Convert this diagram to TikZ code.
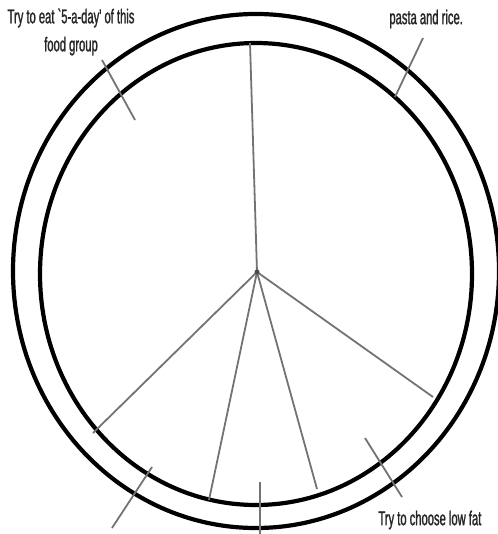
\documentclass[tikz,border=0pt]{standalone}
\usepackage{fontspec}
\usepackage{tikz}
\usepackage{xcolor}
\newfontfamily\handfont[FakeStretch=0.56,FakeBold=1.2]{Liberation Sans}

\begin{document}
\begin{tikzpicture}[x=0.5pt,y=-0.5pt,
      rim/.style={draw=black,line width=2.1pt},
      spoke/.style={draw=black!55,line width=0.9pt},
      pointer/.style={draw=black!55,line width=0.9pt},
      note/.style={font=\handfont\fontsize{10}{14}\selectfont,align=center,inner sep=0pt,text=black!85}]
    \useasboundingbox (0,0) rectangle (497,534);
    \draw[rim] (256,271) ellipse [x radius=243,y radius=257];
    \draw[rim] (256,274) ellipse [x radius=216,y radius=231];
    \coordinate (hub) at (257,272);
    \coordinate (top) at (250,43);
    \coordinate (left) at (93,433);
    \coordinate (midl) at (209,500);
    \coordinate (midr) at (317,489);
    \coordinate (right) at (433,397);
    \foreach \p in {top,left,midl,midr,right}
      \draw[spoke] (hub)--(\p);
    \node[note] (fruit) at (71,32) {Try to eat `5-a-day' of this\\food group};
    \node[note,anchor=west] (starch) at (389,19) {pasta and rice.};
    \node[note,anchor=west] (dairy) at (378,520) {Try to choose low fat};
    \coordinate (fa) at (102,60); \coordinate (fb) at (135,120);
    \coordinate (sa) at (423,38); \coordinate (sb) at (395,97);
    \coordinate (la) at (152,467); \coordinate (lb) at (112,528);
    \coordinate (ma) at (260,482); \coordinate (mb) at (260,534);
    \coordinate (ra) at (365,438); \coordinate (rb) at (402,497);
    \draw[pointer] (fa)--(fb);
    \draw[pointer] (sa)--(sb);
    \draw[pointer] (la)--(lb);
    \draw[pointer] (ma)--(mb);
    \draw[pointer] (ra)--(rb);
    \fill[black!70] (hub) circle (2.5);
  \end{tikzpicture}
\end{document}
